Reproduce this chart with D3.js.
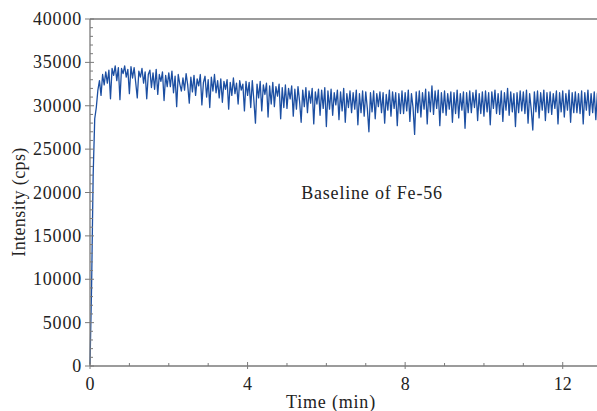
<!DOCTYPE html>
<html><head><meta charset="utf-8">
<script src="https://cdn.jsdelivr.net/npm/d3@7"></script>
<style>body{margin:0;background:#fff}svg{display:block}text{font-family:"Liberation Serif","Times New Roman",serif;fill:#222}</style>
</head><body><svg id="c" width="597" height="411"></svg>
<script>
const timeStep = 0.04; // min between samples
const intensity = [
200,9000,22000,28500,29800,31800,32900,31200,33600,32400,33900,32600,34100,30800,34300,33500,34600,32900,34400,30700,34300,33700,34600,33300,34200,
31400,34500,33200,34400,32700,30900,34000,33300,34300,32600,33900,30800,33600,34100,32100,33800,31900,34200,31300,33600,32800,33900,30600,33500,32200,
33800,32200,34000,31500,33400,29900,33600,32500,31700,33200,31800,33700,32400,30300,33300,31600,33500,31200,33100,32300,33600,30100,32700,33400,31000,
33000,29800,33300,31700,33600,31500,32900,30900,33100,30400,32800,31900,33000,29600,32700,31200,33200,31400,32600,30200,32900,31800,32500,29400,32800,
31200,32700,29800,32900,30600,28000,32500,30900,32800,29400,32400,31300,32600,28700,32300,30200,32700,29900,32200,31100,32500,28500,32100,29800,32400,
29700,32000,30800,32300,28800,31900,29600,32200,30500,28100,31800,29900,32100,29200,31700,30300,32000,27900,31600,30200,31900,28900,31800,29700,32100,
27600,31700,29600,31900,28900,31500,30100,31800,28400,31600,29400,32000,28100,31400,29800,31700,29200,31500,29600,31800,27800,31400,29200,31700,28800,
31600,29700,27000,31500,29300,31700,28500,31400,29900,31600,29200,31500,28000,31300,29500,31800,28800,31600,29700,31500,27700,31400,29100,31700,29100,
31500,29400,31800,28200,31400,29800,26700,31600,29200,31700,28700,31500,29600,31900,27900,31600,29300,32300,29000,31700,29700,31800,27700,31500,29200,
31700,28900,31400,29600,31600,28100,31500,29100,31800,28600,31400,29500,31600,27400,31500,29200,31700,29200,31500,29800,31800,28300,31400,29100,31600,
28800,31700,29300,31500,27800,31600,29700,31800,29100,31400,29000,31700,28200,31500,29500,32000,28900,31600,29300,31400,27600,31500,29200,31700,29400,
31600,29100,31800,28000,31400,29600,27200,31600,29300,31700,28600,31500,29500,31800,28300,31500,29200,31600,29000,31400,29700,31700,27900,31500,29300,
31700,28700,31400,29500,31800,28100,31500,29200,31600,29200,31400,29100,31700,27900,31500,29500,31800,28900,31400,29200,31600,28400,31500
];
const xTicks = [0, 4, 8, 12];
const yTicks = [0,5000,10000,15000,20000,25000,30000,35000,40000];
const xMinor = [1,2,3,5,6,7,9,10,11];
const yMinor = d3.range(1000, 40000, 1000).filter(v => v % 5000 !== 0);

const svg = d3.select("#c");
const L = 90, R = 597, T = 19, B = 366;
const x = d3.scaleLinear().domain([0, 12.87]).range([L, R]);
const y = d3.scaleLinear().domain([0, 40000]).range([B, T]);
const axisCol = "#7a7a7a";

const data = intensity.map((v, i) => ({t: i * timeStep, v}));

svg.append("path").datum(data)
  .attr("fill", "none").attr("stroke", "#1c4fa2").attr("stroke-width", 1.3)
  .attr("stroke-linejoin", "round")
  .attr("d", d3.line().x(d => x(d.t)).y(d => y(d.v)));

svg.append("line").attr("x1", L).attr("x2", R).attr("y1", B).attr("y2", B).attr("stroke", axisCol).attr("stroke-width", 1.3);
svg.append("line").attr("x1", L).attr("x2", L).attr("y1", T).attr("y2", B).attr("stroke", axisCol).attr("stroke-width", 1.3);
svg.append("line").attr("x1", L).attr("x2", R).attr("y1", T).attr("y2", T).attr("stroke", axisCol).attr("stroke-width", 1.3);

const g = svg.append("g");
const fs = 18, ls = 0.8;
yTicks.forEach(v => {
  g.append("line").attr("x1", L - 5).attr("x2", L + 4).attr("y1", y(v)).attr("y2", y(v)).attr("stroke", axisCol);
  g.append("text").attr("x", L - 8).attr("y", y(v)).attr("dy", "0.34em").attr("text-anchor", "end")
   .attr("font-size", fs).attr("letter-spacing", ls).text(v);
});
yMinor.forEach(v => {
  g.append("line").attr("x1", L).attr("x2", L + 3).attr("y1", y(v)).attr("y2", y(v)).attr("stroke", axisCol);
});
xTicks.forEach(v => {
  g.append("line").attr("x1", x(v)).attr("x2", x(v)).attr("y1", B - 4).attr("y2", B + 3).attr("stroke", axisCol);
  g.append("text").attr("x", x(v)).attr("y", B + 24).attr("text-anchor", "middle")
   .attr("font-size", fs).text(v);
});
xMinor.forEach(v => {
  g.append("line").attr("x1", x(v)).attr("x2", x(v)).attr("y1", B - 3).attr("y2", B).attr("stroke", axisCol);
});

svg.append("text").attr("x", 331).attr("y", 408).attr("text-anchor", "middle").attr("font-size", fs).attr("letter-spacing", ls).text("Time (min)");
svg.append("text").attr("transform", "translate(25,202) rotate(-90)").attr("text-anchor", "middle").attr("font-size", fs).attr("letter-spacing", 0.4).text("Intensity (cps)");
svg.append("text").attr("x", 372).attr("y", 199).attr("text-anchor", "middle").attr("font-size", fs).attr("letter-spacing", ls).text("Baseline of Fe-56");
</script></body></html>
